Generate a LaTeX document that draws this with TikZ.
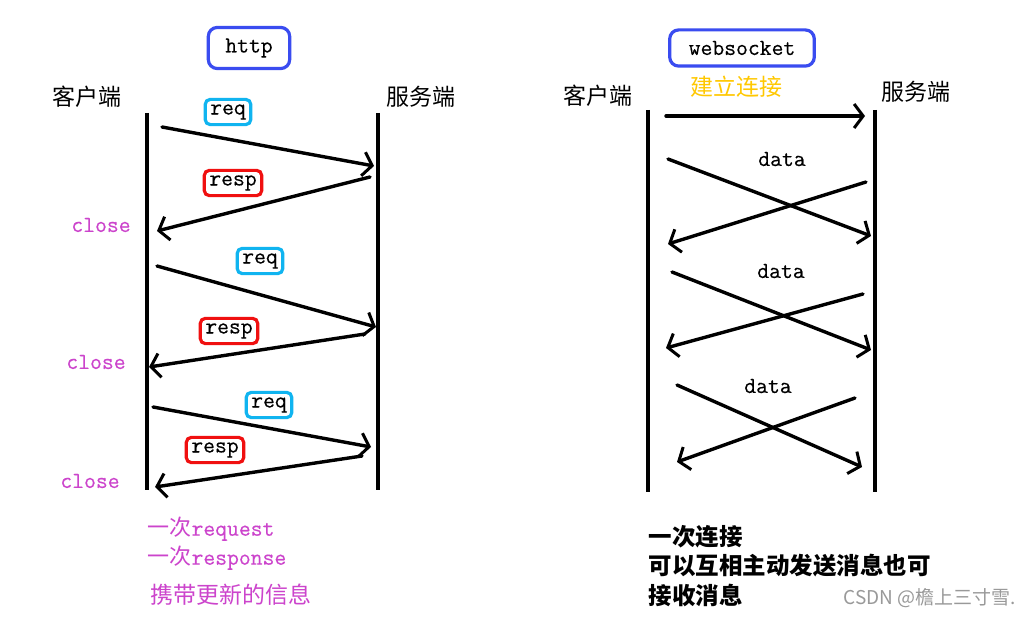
\documentclass[tikz,border=0pt]{standalone}
\usepackage{fontspec}
\setmainfont{Latin Modern Roman}
\newfontfamily\cjk{Noto Sans CJK SC}
\newfontfamily\mono{Latin Modern Mono}[FakeBold=0.3]
\usetikzlibrary{arrows.meta}
\definecolor{boxblue}{HTML}{3A4CF0}
\definecolor{reqcyan}{HTML}{10B4F0}
\definecolor{resred}{HTML}{F01010}
\definecolor{closemag}{HTML}{CC44CC}
\definecolor{linkyellow}{HTML}{FFC800}
\tikzset{
  lifeline/.style={line width=3.6pt},
  msg/.style={line width=3.4pt, line cap=round, -{Straight Barb[length=9pt,width=24pt,line width=3pt]}},
  titlebox/.style={draw=boxblue, line width=3.2pt, rounded corners=9pt, inner xsep=17pt, inner ysep=11pt, font=\mono\fontsize{23}{26}\selectfont},
  reqbox/.style={draw=reqcyan, line width=3.2pt, rounded corners=5pt, inner xsep=5pt, inner ysep=5pt, font=\mono\fontsize{23}{24}\selectfont},
  respbox/.style={draw=resred, line width=3.2pt, rounded corners=5pt, inner xsep=5pt, inner ysep=5pt, font=\mono\fontsize{23}{24}\selectfont},
  role/.style={font=\cjk\fontsize{23}{26}\selectfont},
  closetxt/.style={text=closemag, font=\mono\fontsize{23}{24}\selectfont},
  datatxt/.style={font=\mono\fontsize{23}{24}\selectfont},
  note/.style={anchor=west, font=\cjk\fontsize{22}{26}\selectfont},
  bnote/.style={anchor=west, font=\cjk\bfseries\fontsize{23.5}{26}\selectfont},
}
\begin{document}
\begin{tikzpicture}[x=1pt,y=-1pt]
\useasboundingbox (0,0) rectangle (1034,617);
\fill[white] (0,0) rectangle (1034,617);

% ---------------- http ----------------
\node[titlebox] (http) at (249,48) {http};
\node[role] (hc) at (87,97) {客户端};
\node[role] (hs) at (421,97) {服务端};
\coordinate (hcTop) at (147,113);
\coordinate (hcBot) at (147,490);
\coordinate (hsTop) at (378,113);
\coordinate (hsBot) at (378,490);
\draw[lifeline] (hcTop) -- (hcBot);
\draw[lifeline] (hsTop) -- (hsBot);

\node[reqbox] (req1) at (228,112) {req};
\node[respbox] (resp1) at (233,183) {resp};
\node[reqbox] (req2) at (260,261) {req};
\node[respbox] (resp2) at (229,331) {resp};
\node[reqbox] (req3) at (269,405) {req};
\node[respbox] (resp3) at (215,450) {resp};

\node[closetxt] (close1) at (101,225) {close};
\node[closetxt] (close2) at (96,362) {close};
\node[closetxt] (close3) at (90,481) {close};

\coordinate (a1s) at (162,127); \coordinate (a1e) at (374,166);
\coordinate (a2s) at (370,177); \coordinate (a2e) at (157,231);
\coordinate (a3s) at (157,266); \coordinate (a3e) at (376,327);
\coordinate (a4s) at (365,334); \coordinate (a4e) at (149,367);
\coordinate (a5s) at (153,407); \coordinate (a5e) at (371,447);
\coordinate (a6s) at (362,456); \coordinate (a6e) at (155,487);
\draw[msg] (a1s) -- (a1e);
\draw[msg] (a2s) -- (a2e);
\draw[msg] (a3s) -- (a3e);
\draw[msg] (a4s) -- (a4e);
\draw[msg] (a5s) -- (a5e);
\draw[msg] (a6s) -- (a6e);

\node[note, text=closemag] (n1) at (144,529) {一次{\mono\fontsize{23}{26}\selectfont request}};
\node[note, text=closemag] (n2) at (144,558) {一次{\mono\fontsize{23}{26}\selectfont response}};
\node[note, text=closemag, font=\cjk\fontsize{23}{26}\selectfont] (n3) at (147,595) {携带更新的信息};

% ---------------- websocket ----------------
\node[titlebox, inner xsep=19pt] (ws) at (742,48) {websocket};
\node[text=linkyellow, font=\cjk\fontsize{23}{26}\selectfont] (link) at (736,87) {建立连接};
\node[role] (wc) at (598,96) {客户端};
\node[role] (wsv) at (916,92) {服务端};
\coordinate (wcTop) at (648,110);
\coordinate (wcBot) at (648,492);
\coordinate (wsTop) at (875,110);
\coordinate (wsBot) at (875,492);
\draw[lifeline] (wcTop) -- (wcBot);
\draw[lifeline] (wsTop) -- (wsBot);

\coordinate (c0s) at (666,116); \coordinate (c0e) at (865,116);
\draw[msg] (c0s) -- (c0e);

\node[datatxt] (d1) at (782,159) {data};
\node[datatxt] (d2) at (781,271) {data};
\node[datatxt] (d3) at (768,386) {data};

\coordinate (x1a) at (668,159); \coordinate (x1b) at (871,236);
\coordinate (x1c) at (866,182); \coordinate (x1d) at (668,244);
\coordinate (x2a) at (672,272); \coordinate (x2b) at (871,350);
\coordinate (x2c) at (863,294); \coordinate (x2d) at (666,348);
\coordinate (x3a) at (677,385); \coordinate (x3b) at (862,467);
\coordinate (x3c) at (855,398); \coordinate (x3d) at (677,462);
\draw[msg] (x1a) -- (x1b);
\draw[msg] (x1c) -- (x1d);
\draw[msg] (x2a) -- (x2b);
\draw[msg] (x2c) -- (x2d);
\draw[msg] (x3a) -- (x3b);
\draw[msg] (x3c) -- (x3d);

\node[bnote] (m1) at (645,537) {一次连接};
\node[bnote] (m2) at (645,566) {可以互相主动发送消息也可};
\node[bnote] (m3) at (645,595) {接收消息};

\node[anchor=west, text=black!40, font=\cjk\fontsize{19}{22}\selectfont] (wm) at (840,598) {CSDN @檐上三寸雪.};
\end{tikzpicture}
\end{document}
